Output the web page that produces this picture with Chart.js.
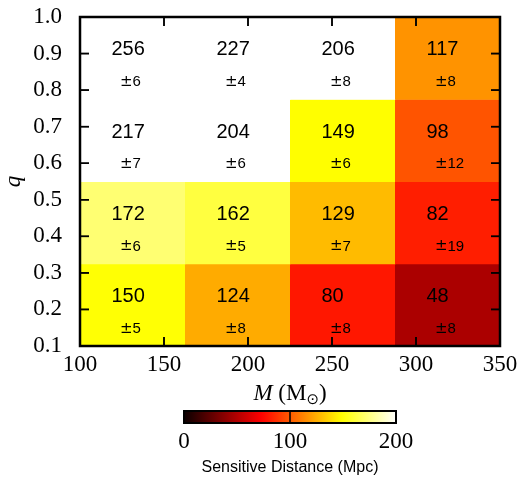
<!DOCTYPE html>
<html>
<head>
<meta charset="utf-8">
<script src="https://cdn.jsdelivr.net/npm/chart.js@4/dist/chart.umd.min.js"></script>
<style>
html,body{margin:0;padding:0;background:#fff;}
#wrap{width:527px;height:477px;}
</style>
</head>
<body>
<div id="wrap"><canvas id="c" width="527" height="477"></canvas></div>
<script>
// ---- data ----
const massEdges = [100, 162.5, 225, 287.5, 350];
const qEdges = [0.1, 0.325, 0.55, 0.775, 1.0];
// sensitive distance (Mpc), one array per q-bin (bottom to top), columns = mass bins
const distQ1 = [150, 124, 80, 48];
const distQ2 = [172, 162, 129, 82];
const distQ3 = [217, 204, 149, 98];
const distQ4 = [256, 227, 206, 117];
const errQ1 = [5, 8, 8, 8];
const errQ2 = [6, 5, 7, 19];
const errQ3 = [7, 6, 6, 12];
const errQ4 = [6, 4, 8, 8];
const xTickValues = [100, 150, 200, 250, 300, 350];
const yTickValues = [0.1, 0.2, 0.3, 0.4, 0.5, 0.6, 0.7, 0.8, 0.9, 1.0];
const cbarTickValues = [0, 100, 200];
const cbarMin = 0, cbarMax = 200;

const distRows = [distQ1, distQ2, distQ3, distQ4];
const errRows = [errQ1, errQ2, errQ3, errQ4];

// hot colormap
function hot(t) {
  t = Math.max(0, Math.min(1, t));
  const r = Math.min(1, 0.0416 + (1 - 0.0416) * t / 0.365079);
  const g = Math.max(0, Math.min(1, (t - 0.365079) / (0.746032 - 0.365079)));
  const b = Math.max(0, Math.min(1, (t - 0.746032) / (1 - 0.746032)));
  return 'rgb(' + Math.round(r * 255) + ',' + Math.round(g * 255) + ',' + Math.round(b * 255) + ')';
}

const cells = [];
for (let i = 0; i < 4; i++) {
  for (let j = 0; j < 4; j++) {
    cells.push({
      x: (massEdges[j] + massEdges[j + 1]) / 2,
      y: (qEdges[i] + qEdges[i + 1]) / 2,
      x0: massEdges[j], x1: massEdges[j + 1],
      y0: qEdges[i], y1: qEdges[i + 1],
      v: distRows[i][j], e: errRows[i][j]
    });
  }
}

const SERIF = '"Liberation Serif", "DejaVu Serif", serif';
const SANS = '"Liberation Sans", Arial, sans-serif';

function drawTicks(chart) {
  const ctx = chart.ctx, xs = chart.scales.x, ys = chart.scales.y, a = chart.chartArea;
  ctx.save();
  ctx.fillStyle = '#000';
  const tl = 9, lw = 1.5;
  for (let k = 0; k < xTickValues.length; k++) {
    const p = xs.getPixelForValue(xTickValues[k]);
    ctx.fillRect(p - lw / 2, a.bottom - tl, lw, tl);
    ctx.fillRect(p - lw / 2, a.top, lw, tl);
  }
  for (let k = 0; k < yTickValues.length; k++) {
    const p = ys.getPixelForValue(yTickValues[k]);
    ctx.fillRect(a.left, p - lw / 2, tl, lw);
    ctx.fillRect(a.right - tl, p - lw / 2, tl, lw);
  }
  ctx.restore();
}

const heatPlugin = {
  id: 'heat',
  beforeDatasetsDraw(chart) {
    const ctx = chart.ctx, xs = chart.scales.x, ys = chart.scales.y;
    ctx.save();
    chart.data.datasets[0].data.forEach(c => {
      const l = xs.getPixelForValue(c.x0), r = xs.getPixelForValue(c.x1);
      const t = ys.getPixelForValue(c.y1), b = ys.getPixelForValue(c.y0);
      ctx.fillStyle = hot((c.v - cbarMin) / (cbarMax - cbarMin));
      ctx.fillRect(l, t, r - l + 0.5, b - t + 0.5);
    });
    ctx.restore();
    drawTicks(chart);
  },
  afterDraw(chart) {
    const ctx = chart.ctx, xs = chart.scales.x, ys = chart.scales.y;
    const a = chart.chartArea;
    drawTicks(chart);
    ctx.save();
    // cell texts
    ctx.fillStyle = '#000';
    ctx.textAlign = 'left';
    ctx.textBaseline = 'middle';
    chart.data.datasets[0].data.forEach(c => {
      const w = c.x1 - c.x0, h = c.y1 - c.y0;
      ctx.font = '20px ' + SANS;
      ctx.fillText(String(c.v), xs.getPixelForValue(c.x0 + 0.3 * w), ys.getPixelForValue(c.y + 0.1 * h));
      const ex = xs.getPixelForValue(c.x0 + 0.38 * w), ey = ys.getPixelForValue(c.y - 0.29 * h);
      ctx.font = '15px "DejaVu Sans", sans-serif';
      ctx.fillText('\u00B1', ex, ey);
      const pw = ctx.measureText('\u00B1').width;
      ctx.font = '15px ' + SANS;
      ctx.fillText(String(c.e), ex + pw, ey);
    });
    // frame
    ctx.strokeStyle = '#000';
    ctx.lineWidth = 2.5;
    ctx.strokeRect(a.left, a.top, a.right - a.left, a.bottom - a.top);

    // axis labels
    ctx.fillStyle = '#000';
    ctx.save();
    ctx.translate(20, (a.top + a.bottom) / 2);
    ctx.rotate(-Math.PI / 2);
    ctx.font = 'italic 23px ' + SERIF;
    ctx.textAlign = 'center';
    ctx.textBaseline = 'alphabetic';
    ctx.fillText('q', 0, 0);
    ctx.restore();
    const parts = [
      {t: 'M', f: 'italic 23px ' + SERIF, dy: 0},
      {t: ' (M', f: '23px ' + SERIF, dy: 0},
      {t: '\u2299', f: '15px "DejaVu Sans", ' + SERIF, dy: 4},
      {t: ')', f: '23px ' + SERIF, dy: 0}
    ];
    let tw = 0;
    parts.forEach(p => { ctx.font = p.f; p.w = ctx.measureText(p.t).width; tw += p.w; });
    let x = (a.left + a.right) / 2 - tw / 2;
    const yb = 400;
    ctx.textAlign = 'left';
    ctx.textBaseline = 'alphabetic';
    parts.forEach(p => { ctx.font = p.f; ctx.fillText(p.t, x, yb + p.dy); x += p.w; });

    // colorbar
    const cb = {l: 184, r: 396, t: 411, b: 423};
    const grad = ctx.createLinearGradient(cb.l, 0, cb.r, 0);
    for (let k = 0; k <= 50; k++) grad.addColorStop(k / 50, hot(k / 50));
    ctx.fillStyle = grad;
    ctx.fillRect(cb.l, cb.t, cb.r - cb.l, cb.b - cb.t);
    ctx.lineWidth = 2;
    ctx.strokeStyle = '#000';
    ctx.strokeRect(cb.l, cb.t, cb.r - cb.l, cb.b - cb.t);
    const cpx = v => cb.l + (v - cbarMin) / (cbarMax - cbarMin) * (cb.r - cb.l);
    ctx.fillStyle = '#000';
    cbarTickValues.forEach(v => {
      if (v > cbarMin && v < cbarMax) ctx.fillRect(cpx(v) - 0.75, cb.t, 1.5, cb.b - cb.t);
    });
    ctx.font = '23px ' + SERIF;
    ctx.textAlign = 'center';
    ctx.textBaseline = 'alphabetic';
    cbarTickValues.forEach(v => ctx.fillText(String(v), cpx(v), 448));
    ctx.font = '16px ' + SANS;
    ctx.fillText('Sensitive Distance (Mpc)', (cb.l + cb.r) / 2, 472);
    ctx.restore();
  }
};

new Chart(document.getElementById('c'), {
  type: 'scatter',
  data: { datasets: [{ data: cells, pointRadius: 0, pointHoverRadius: 0 }] },
  options: {
    responsive: false,
    animation: false,
    events: [],
    layout: { padding: { top: 17, right: 27, left: 0, bottom: 0 } },
    plugins: { legend: { display: false }, tooltip: { enabled: false } },
    scales: {
      x: {
        type: 'linear', min: 100, max: 350,
        afterBuildTicks: s => { s.ticks = xTickValues.map(v => ({value: v})); },
        afterFit: s => { s.height = 131; s.paddingLeft = 0; s.paddingRight = 0; },
        grid: { display: false }, border: { display: false },
        ticks: { color: '#000', font: { family: SERIF, size: 23 }, padding: -3, maxRotation: 0,
                 callback: v => String(v) }
      },
      y: {
        type: 'linear', min: 0.1, max: 1.0,
        afterBuildTicks: s => { s.ticks = yTickValues.map(v => ({value: v})); },
        afterFit: s => { s.width = 80; s.paddingTop = 0; s.paddingBottom = 0; },
        grid: { display: false }, border: { display: false },
        ticks: { color: '#000', font: { family: SERIF, size: 23 }, padding: 10,
                 callback: v => Number(v).toFixed(1) }
      }
    }
  },
  plugins: [heatPlugin]
});
</script>
</body>
</html>
